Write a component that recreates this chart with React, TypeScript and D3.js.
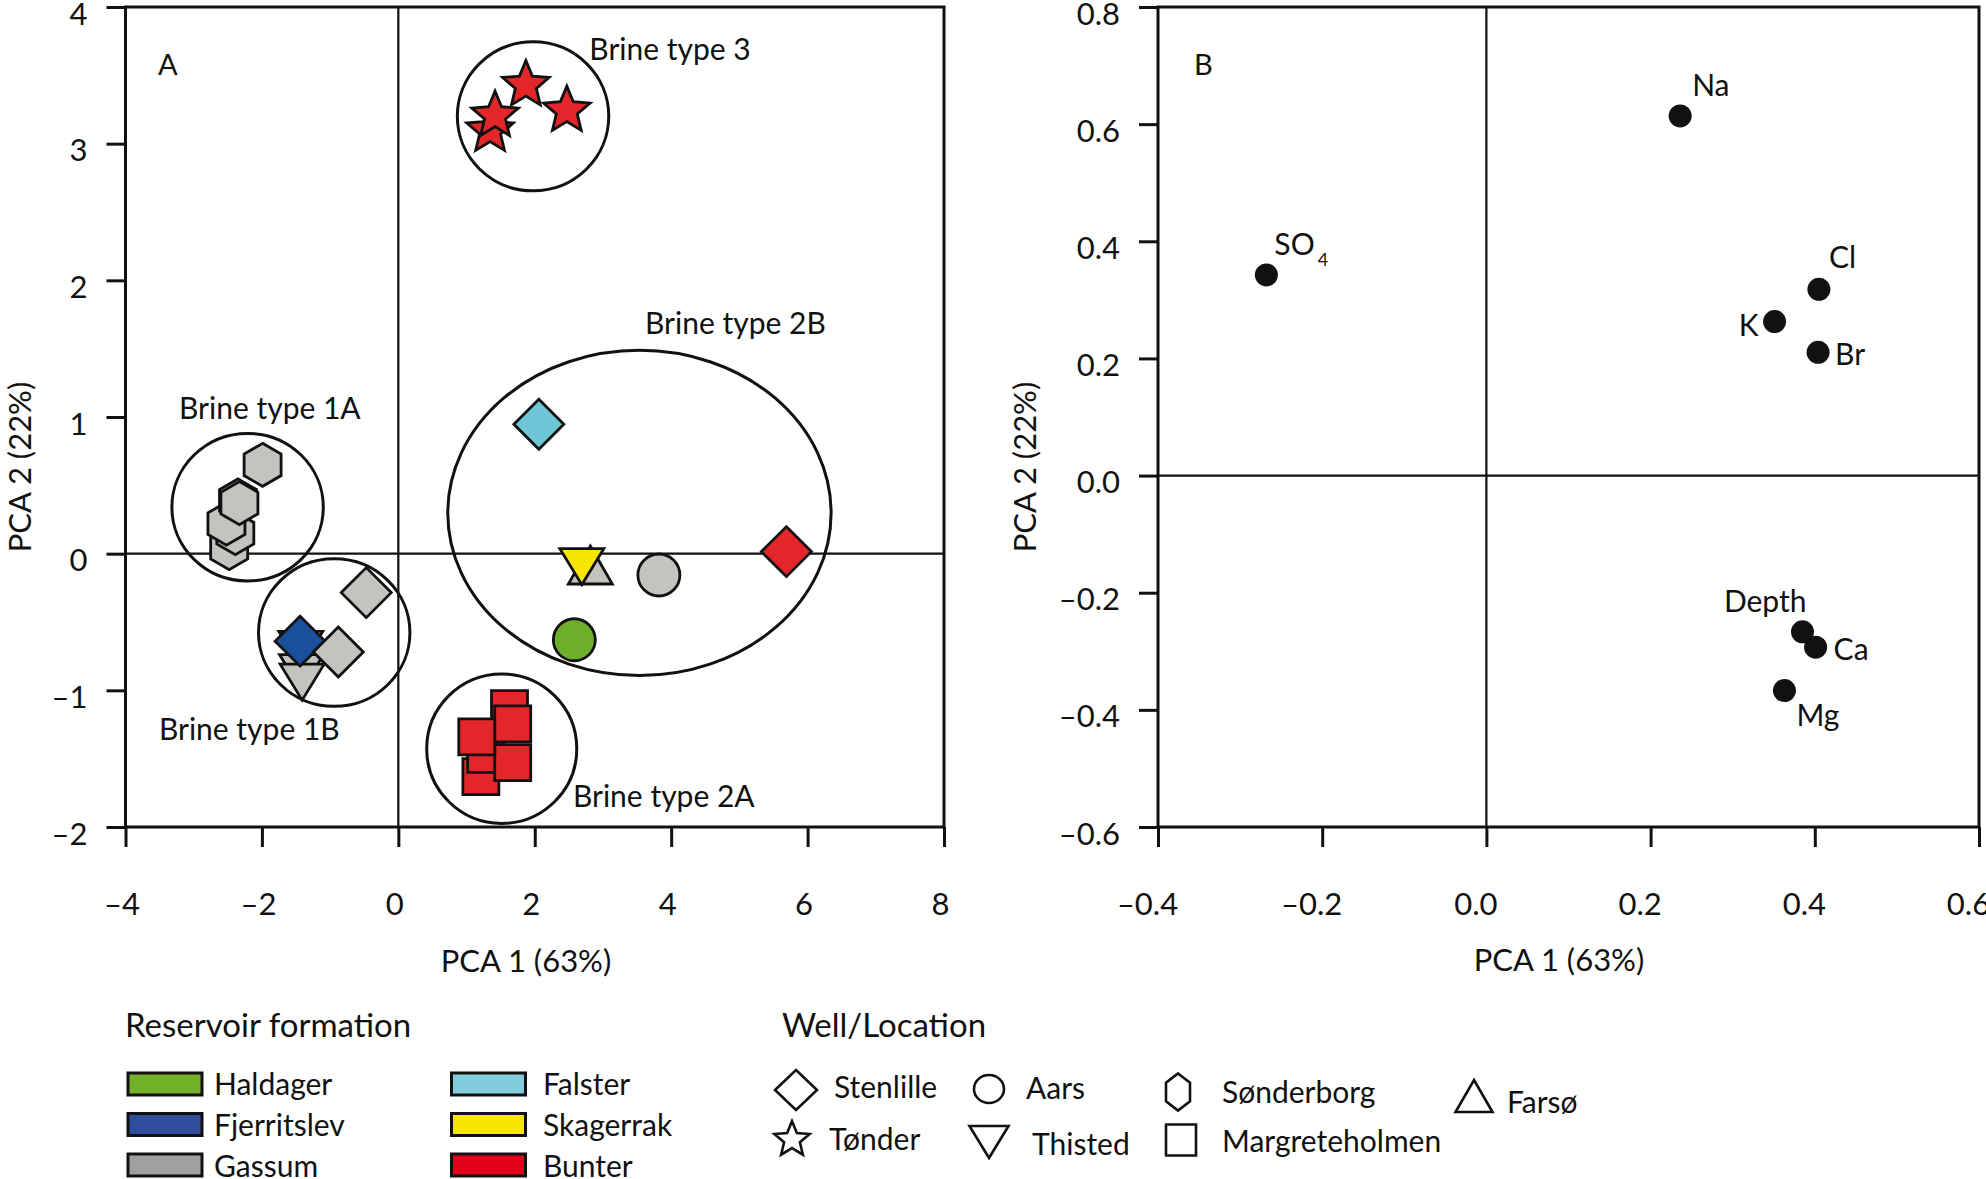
// @ts-nocheck
import React from "react";
import * as d3 from "d3";

// ---- data ----
const formations = ["Haldager", "Fjerritslev", "Gassum", "Falster", "Skagerrak", "Bunter"];
const formationLegendColors = ["#74b12a", "#2f4e9b", "#a0a0a0", "#82cddd", "#f9e600", "#e2001a"];
const formationMarkerColors = ["#6daf2b", "#1a4f9a", "#c4c3bf", "#6ec6d6", "#f5e500", "#e3262a"];

const locations = ["Stenlille", "Tønder", "Aars", "Thisted", "Sønderborg", "Margreteholmen", "Farsø"];

// [location, formation, PCA 1, PCA 2] in draw order
const samples = [
  ["Sønderborg", "Gassum", -2.48, 0.04],
  ["Sønderborg", "Gassum", -2.39, 0.15],
  ["Sønderborg", "Gassum", -2.52, 0.22],
  ["Sønderborg", "Gassum", -2.35, 0.39],
  ["Sønderborg", "Gassum", -2.33, 0.37],
  ["Sønderborg", "Gassum", -1.99, 0.65],
  ["Thisted", "Gassum", -1.43, -0.70],
  ["Thisted", "Gassum", -1.42, -0.87],
  ["Thisted", "Gassum", -1.41, -0.94],
  ["Stenlille", "Fjerritslev", -1.44, -0.64],
  ["Stenlille", "Gassum", -0.88, -0.72],
  ["Stenlille", "Gassum", -0.47, -0.285],
  ["Stenlille", "Falster", 2.06, 0.947],
  ["Stenlille", "Bunter", 5.69, 0.015],
  ["Farsø", "Gassum", 2.815, -0.083],
  ["Thisted", "Skagerrak", 2.69, -0.095],
  ["Aars", "Gassum", 3.82, -0.156],
  ["Aars", "Haldager", 2.58, -0.63],
  ["Tønder", "Bunter", 1.345, 3.113],
  ["Tønder", "Bunter", 1.418, 3.222],
  ["Tønder", "Bunter", 1.87, 3.446],
  ["Tønder", "Bunter", 2.47, 3.259],
  ["Margreteholmen", "Bunter", 1.21, -1.632],
  ["Margreteholmen", "Bunter", 1.28, -1.468],
  ["Margreteholmen", "Bunter", 1.677, -1.529],
  ["Margreteholmen", "Bunter", 1.63, -1.134],
  ["Margreteholmen", "Bunter", 1.677, -1.246],
  ["Margreteholmen", "Bunter", 1.15, -1.341],
];

// brine groups: name, centre and radii in PCA units
const brineNames = ["Brine type 3", "Brine type 2B", "Brine type 1A", "Brine type 1B", "Brine type 2A"];
const brineCx = [1.975, 3.535, -2.21, -0.94, 1.516];
const brineCy = [3.2, 0.298, 0.34, -0.577, -1.427];
const brineRx = [1.11, 2.81, 1.11, 1.11, 1.1];
const brineRy = [0.545, 1.19, 0.54, 0.54, 0.547];
const brineLabelX = [2.8, 3.617, -3.216, -3.51, 2.56];
const brineLabelY = [3.61, 1.607, 0.986, -1.363, -1.853];

// loadings (panel B)
const loadingNames = ["SO4", "Na", "Cl", "K", "Br", "Depth", "Ca", "Mg"];
const loadingPc1 = [-0.268, 0.236, 0.405, 0.351, 0.404, 0.385, 0.401, 0.363];
const loadingPc2 = [0.3425, 0.614, 0.318, 0.263, 0.2105, -0.2667, -0.293, -0.367];

const ticksAX = [-4, -2, 0, 2, 4, 6, 8];
const ticksAY = [-2, -1, 0, 1, 2, 3, 4];
const ticksBX = [-0.4, -0.2, 0, 0.2, 0.4, 0.6];
const ticksBY = [-0.6, -0.4, -0.2, 0, 0.2, 0.4, 0.6, 0.8];

// ---- styling ----
const FONT = "Lato, 'Open Sans', sans-serif";
const INK = "#111";
const shapeOf = {
  Stenlille: "diamond", Tønder: "star", Aars: "circle", Thisted: "triDown",
  Sønderborg: "hexagon", Margreteholmen: "square", Farsø: "triUp",
};
const plotSize = {
  diamond: [25, 25], star: [24.5, 24.5], circle: [21, 21], triDown: [22, 18],
  hexagon: [18.5, 21.5], square: [18, 18], triUp: [22, 19],
};
const legendSize = {
  diamond: [21, 20], star: [18.5, 18.5], circle: [15, 14], triDown: [19.5, 16],
  hexagon: [12, 18.5], square: [15, 15.5], triUp: [18.5, 16],
};
// label offsets for loadings: dx, dy, anchor
const loadingLabelPos = {
  SO4: [8, -20, "start"], Na: [12, -20, "start"], Cl: [10, -21, "start"], K: [-16, 14, "end"],
  Br: [17, 13, "start"], Depth: [4, -20, "end"], Ca: [18, 13, "start"], Mg: [12, 35, "start"],
};
const legendWellPos = {
  Stenlille: [796, 1090, 834, 1098], Aars: [989, 1089, 1026, 1099], Sønderborg: [1178, 1092, 1222, 1103],
  Farsø: [1474, 1096, 1507, 1113], Tønder: [792, 1138, 829, 1150], Thisted: [989, 1142, 1032, 1155],
  Margreteholmen: [1181, 1140, 1222, 1152],
};

function markerPath(shape, w, h) {
  switch (shape) {
    case "diamond":
      return `M0,${-h}L${w},0L0,${h}L${-w},0Z`;
    case "square":
      return `M${-w},${-h}H${w}V${h}H${-w}Z`;
    case "circle":
      return `M${-w},0A${w},${h} 0 1,0 ${w},0A${w},${h} 0 1,0 ${-w},0Z`;
    case "triUp":
      return `M0,${-h}L${w},${h}L${-w},${h}Z`;
    case "triDown":
      return `M0,${h}L${w},${-h}L${-w},${-h}Z`;
    case "hexagon":
      return `M0,${-h}L${w},${-h / 2}L${w},${h / 2}L0,${h}L${-w},${h / 2}L${-w},${-h / 2}Z`;
    case "star": {
      const pts = d3.range(10).map((i) => {
        const r = i % 2 === 0 ? w : w * 0.45;
        const a = (i * Math.PI) / 5 - Math.PI / 2;
        return [r * Math.cos(a), r * Math.sin(a) + w * 0.095];
      });
      return "M" + pts.map((p) => p.join(",")).join("L") + "Z";
    }
  }
  return "";
}

const fmtTick = (spec) => (d) => d3.format(spec)(d).replace("−", "–");

const App = () => {
  const svgRef = React.useRef(null);

  React.useEffect(() => {
    const svg = d3.select(svgRef.current);
    svg.selectAll("*").remove();

    const xA = d3.scaleLinear().domain([-4, 8]).range([125.5, 944]);
    const yA = d3.scaleLinear().domain([-2, 4]).range([827, 7]);
    const xB = d3.scaleLinear().domain([-0.4, 0.6]).range([1158, 1979]);
    const yB = d3.scaleLinear().domain([-0.6, 0.8]).range([827, 7]);

    // frame, zero lines, axes
    const drawFrame = (x, y, xTicks, yTicks, spec, labelShift) => {
      const [x0, x1] = x.range();
      const [y0, y1] = y.range();
      const g = svg.append("g");
      g.append("line").attr("x1", x(0)).attr("x2", x(0)).attr("y1", y1).attr("y2", y0)
        .attr("stroke", INK).attr("stroke-width", 2.2);
      g.append("line").attr("x1", x0).attr("x2", x1).attr("y1", y(0)).attr("y2", y(0))
        .attr("stroke", INK).attr("stroke-width", 2.2);

      const xAxis = g.append("g").attr("transform", `translate(0,${y0})`)
        .call(d3.axisBottom(x).tickValues(xTicks).tickSize(20).tickPadding(46).tickFormat(fmtTick(spec)));
      const yAxis = g.append("g").attr("transform", `translate(${x0},0)`)
        .call(d3.axisLeft(y).tickValues(yTicks).tickSize(19).tickPadding(19).tickFormat(fmtTick(spec)));
      [xAxis, yAxis].forEach((ax) => {
        ax.select(".domain").remove();
        ax.selectAll("line").attr("stroke", INK).attr("stroke-width", 3);
        ax.selectAll("text").attr("font-family", FONT).attr("font-size", 31).attr("fill", INK);
      });
      xAxis.selectAll("text").attr("dx", labelShift);
      yAxis.selectAll("text").attr("dy", "0.55em");

      g.append("rect").attr("x", x0).attr("y", y1).attr("width", x1 - x0).attr("height", y0 - y1)
        .attr("fill", "none").attr("stroke", INK).attr("stroke-width", 3);
    };

    drawFrame(xA, yA, ticksAX, ticksAY, "d", -4);
    drawFrame(xB, yB, ticksBX, ticksBY, ".1f", -11);

    const text = (x, y, str, size = 31, anchor = "start") =>
      svg.append("text").attr("x", x).attr("y", y).attr("font-family", FONT).attr("font-size", size)
        .attr("fill", INK).attr("text-anchor", anchor).text(str);

    // axis titles and panel letters
    text(526, 972, "PCA 1 (63%)", 31, "middle");
    text(1559, 971, "PCA 1 (63%)", 31, "middle");
    text(0, 0, "PCA 2 (22%)", 31, "middle").attr("transform", "translate(31,467) rotate(-90)");
    text(0, 0, "PCA 2 (22%)", 31, "middle").attr("transform", "translate(1036,467) rotate(-90)");
    text(158, 75, "A", 29);
    text(1194, 75, "B", 29);

    // panel A: brine groups
    const brines = brineNames.map((name, i) => ({
      name, cx: brineCx[i], cy: brineCy[i], rx: brineRx[i], ry: brineRy[i], lx: brineLabelX[i], ly: brineLabelY[i],
    }));
    svg.append("g").selectAll("ellipse").data(brines).join("ellipse")
      .attr("cx", (d) => xA(d.cx)).attr("cy", (d) => yA(d.cy))
      .attr("rx", (d) => xA(d.cx + d.rx) - xA(d.cx)).attr("ry", (d) => yA(d.cy) - yA(d.cy + d.ry))
      .attr("fill", "none").attr("stroke", INK).attr("stroke-width", 3);
    svg.append("g").selectAll("text").data(brines).join("text")
      .attr("x", (d) => xA(d.lx)).attr("y", (d) => yA(d.ly))
      .attr("font-family", FONT).attr("font-size", 30).attr("fill", INK).text((d) => d.name);

    // panel A: samples
    svg.append("g").selectAll("path").data(samples).join("path")
      .attr("transform", (d) => `translate(${xA(d[2])},${yA(d[3])})`)
      .attr("d", (d) => {
        const s = shapeOf[d[0]];
        return markerPath(s, plotSize[s][0], plotSize[s][1]);
      })
      .attr("fill", (d) => formationMarkerColors[formations.indexOf(d[1])])
      .attr("stroke", INK).attr("stroke-width", 2.8).attr("stroke-linejoin", "miter");

    // panel B: loadings
    const loadings = loadingNames.map((name, i) => ({ name, x: loadingPc1[i], y: loadingPc2[i] }));
    svg.append("g").selectAll("circle").data(loadings).join("circle")
      .attr("cx", (d) => xB(d.x)).attr("cy", (d) => yB(d.y)).attr("r", 11.5).attr("fill", INK);
    const lab = svg.append("g").selectAll("text").data(loadings).join("text")
      .attr("x", (d) => xB(d.x) + loadingLabelPos[d.name][0])
      .attr("y", (d) => yB(d.y) + loadingLabelPos[d.name][1])
      .attr("text-anchor", (d) => loadingLabelPos[d.name][2])
      .attr("font-family", FONT).attr("font-size", 30).attr("fill", INK);
    lab.each(function (d) {
      const t = d3.select(this);
      if (d.name === "SO4") {
        t.append("tspan").text("SO");
        t.append("tspan").attr("font-size", 18).attr("dx", 3).attr("dy", 11).text("4");
      } else {
        t.text(d.name);
      }
    });

    // legend: reservoir formation
    text(125, 1037, "Reservoir formation", 33);
    const legendForm = formations.map((f, i) => ({ f, i, col: Math.floor(i / 3), row: i % 3 }));
    const lg = svg.append("g");
    lg.selectAll("rect").data(legendForm).join("rect")
      .attr("x", (d) => (d.col ? 451.5 : 128)).attr("y", (d) => 1073 + d.row * 40.5)
      .attr("width", 74).attr("height", 22)
      .attr("fill", (d) => formationLegendColors[d.i]).attr("stroke", INK).attr("stroke-width", 3);
    lg.selectAll("text").data(legendForm).join("text")
      .attr("x", (d) => (d.col ? 543 : 214)).attr("y", (d) => 1095 + d.row * 41)
      .attr("font-family", FONT).attr("font-size", 30).attr("fill", INK).text((d) => d.f);

    // legend: well / location
    text(782, 1037, "Well/Location", 33);
    const wg = svg.append("g");
    wg.selectAll("path").data(locations).join("path")
      .attr("transform", (d) => `translate(${legendWellPos[d][0]},${legendWellPos[d][1]})`)
      .attr("d", (d) => {
        const s = shapeOf[d];
        return markerPath(s, legendSize[s][0], legendSize[s][1]);
      })
      .attr("fill", "none").attr("stroke", INK).attr("stroke-width", 2.6);
    wg.selectAll("text").data(locations).join("text")
      .attr("x", (d) => legendWellPos[d][2]).attr("y", (d) => legendWellPos[d][3])
      .attr("font-family", FONT).attr("font-size", 30).attr("fill", INK).text((d) => d);
  }, []);

  return (
    <svg
      ref={svgRef}
      width={1986}
      height={1179}
      style={{ position: "absolute", left: 0, top: 0, background: "#fff" }}
    />
  );
};

export default App;
